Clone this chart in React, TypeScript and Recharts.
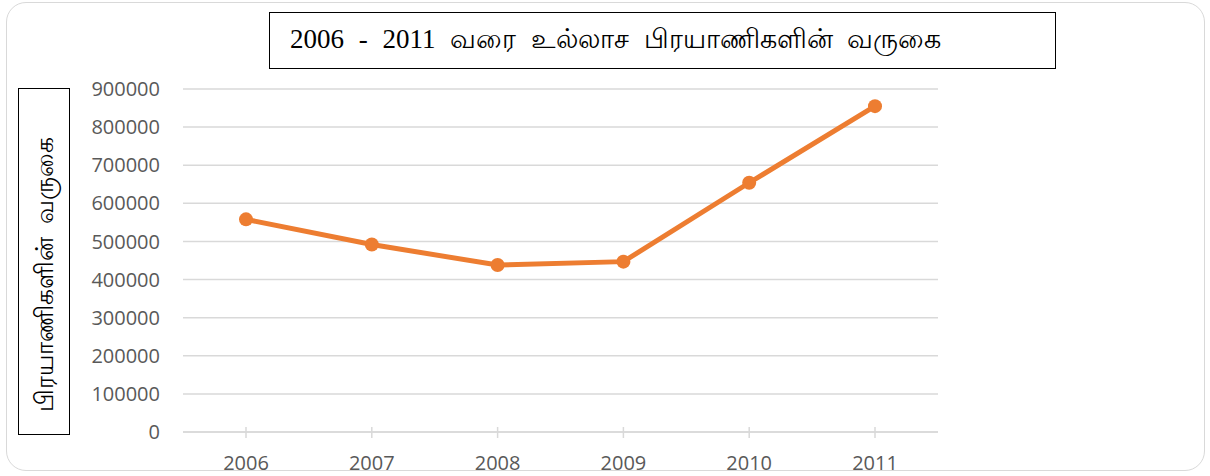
import React from 'react';
import { LineChart, Line, XAxis, YAxis, CartesianGrid } from 'recharts';

// arrivals of tourists
const years = ['2006', '2007', '2008', '2009', '2010', '2011'];
const arrivals = [558000, 492000, 438000, 447000, 654000, 855000];
const yTicks = [0, 100000, 200000, 300000, 400000, 500000, 600000, 700000, 800000, 900000];

const titleText = '2006 - 2011 வரை உல்லாச பிரயாணிகளின் வருகை';
const yLabelText = 'பிரயாணிகளின்  வருகை';

const chartData = years.map((year, i) => ({ year, value: arrivals[i] }));

const XTick = (props: any) => {
    const { x, y, payload } = props;
    return (
        <g>
            <line x1={x} x2={x} y1={y - 5} y2={y + 6} stroke="#d9d9d9" strokeWidth={1.5} />
            <text x={x} y={y + 38} textAnchor="middle" fill="#595959" fontSize={20} fontFamily="'Open Sans', sans-serif">
                {payload.value}
            </text>
        </g>
    );
};

export default function App() {
    return (
        <div style={{ position: 'absolute', left: 0, top: 0, width: 1210, height: 476, background: '#fff' }}>
            {/* outer rounded frame */}
            <div style={{
                position: 'absolute', left: 6, top: 2, width: 1199, height: 469,
                border: '1.5px solid #d9d9d9', borderRadius: 20, boxSizing: 'border-box'
            }} />

            <LineChart
                width={1210}
                height={476}
                data={chartData}
                margin={{ top: 89, right: 272, left: 0, bottom: 0 }}
                style={{ position: 'absolute', left: 0, top: 0 }}
            >
                <CartesianGrid vertical={false} stroke="#d9d9d9" strokeWidth={1.5} />
                <XAxis
                    dataKey="year"
                    height={44}
                    padding={{ left: 63, right: 63 }}
                    axisLine={{ stroke: '#d9d9d9', strokeWidth: 1.5 }}
                    tickLine={false}
                    tickSize={0}
                    tickMargin={0}
                    tick={<XTick />}
                    interval={0}
                />
                <YAxis
                    width={183}
                    domain={[0, 900000]}
                    ticks={yTicks}
                    axisLine={false}
                    tickLine={false}
                    tickSize={0}
                    tickMargin={23}
                    tick={{ fill: '#595959', fontSize: 20, fontFamily: "'Open Sans', sans-serif" }}
                />
                <Line
                    type="linear"
                    dataKey="value"
                    stroke="#ED7D31"
                    strokeWidth={5}
                    dot={{ r: 7, fill: '#ED7D31', stroke: 'none' }}
                    isAnimationActive={false}
                />
            </LineChart>

            {/* title box */}
            <div style={{
                position: 'absolute', left: 269, top: 12, width: 787, height: 57,
                border: '1.5px solid #000', boxSizing: 'border-box',
                display: 'flex', alignItems: 'center', paddingLeft: 20,
                fontFamily: "'Liberation Serif', 'Times New Roman', serif", fontSize: 27,
                wordSpacing: 8, color: '#000', whiteSpace: 'nowrap'
            }}>
                {titleText}
            </div>

            {/* y axis title box */}
            <div style={{
                position: 'absolute', left: 18, top: 88, width: 52, height: 347,
                border: '1.5px solid #000', boxSizing: 'border-box'
            }} />
            <div style={{
                position: 'absolute', left: 44, top: 274, width: 0, height: 0
            }}>
                <div style={{
                    position: 'absolute', left: 0, top: 0,
                    transform: 'translate(-50%, -50%) rotate(-90deg)',
                    fontFamily: "'Noto Sans', sans-serif", fontSize: 25, fontWeight: 500, color: '#000',
                    whiteSpace: 'pre'
                }}>
                    {yLabelText}
                </div>
            </div>
        </div>
    );
}
